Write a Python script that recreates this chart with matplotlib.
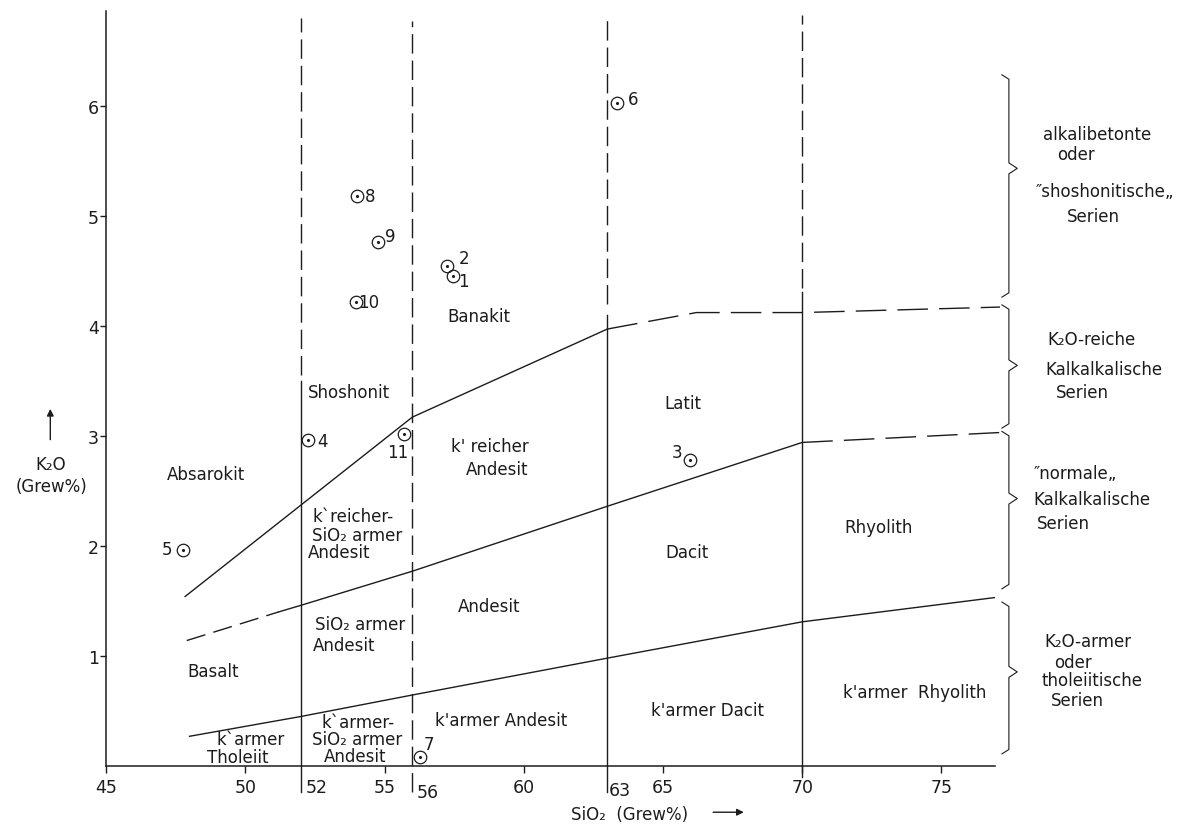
import matplotlib.pyplot as plt

# samples (SiO2, K2O in Grew%)
sample_no = ["1", "2", "3", "4", "5", "6", "7", "8", "9", "10", "11"]
sio2 = [57.46, 57.24, 65.97, 52.26, 47.77, 63.35, 56.27, 54.0, 54.77, 53.98, 55.70]
k2o = [4.45, 4.54, 2.78, 2.96, 1.96, 6.02, 0.08, 5.18, 4.76, 4.22, 3.02]
# label offsets for sample numbers (SiO2, K2O)
label_dx = [0.36, 0.61, -0.47, 0.5, -0.58, 0.57, 0.33, 0.48, 0.43, 0.46, -0.22]
label_dy = [-0.04, 0.08, 0.07, -0.01, 0.01, 0.04, 0.12, 0.0, 0.06, 0.0, -0.17]

# boundary lines
upper_solid_x = [47.84, 56, 63]
upper_solid_y = [1.54, 3.17, 3.97]
upper_dash_x = [63, 66.2, 70, 77.1]
upper_dash_y = [3.97, 4.12, 4.12, 4.17]
mid_dash_x = [47.9, 51.2]
mid_dash_y = [1.14, 1.40]
mid_solid_x = [51.2, 52, 56, 63, 70]
mid_solid_y = [1.40, 1.46, 1.77, 2.36, 2.94]
mid_dash2_x = [70, 77.1]
mid_dash2_y = [2.94, 3.03]
low_x = [48.0, 52, 56, 63, 70, 76.9]
low_y = [0.27, 0.45, 0.645, 0.98, 1.31, 1.53]

# vertical SiO2 dividers: (sio2, dashed from, dashed to, solid from, solid to)
dividers = [
    (52, 3.55, 6.80, -0.24, 3.50),
    (56, -0.24, 6.77, None, None),
    (63, 4.20, 6.80, -0.24, 4.10),
    (70, 4.34, 6.82, -0.10, 4.31),
]

# field names
fields = [
    ("Absarokit", 48.6, 2.65, "center"),
    ("Basalt", 48.85, 0.86, "center"),
    ("k`armer", 50.2, 0.245, "center"),
    ("Tholeiit", 49.74, 0.08, "center"),
    ("Shoshonit", 52.25, 3.4, "left"),
    ("k`reicher-", 52.43, 2.27, "left"),
    ("SiO₂ armer", 52.4, 2.10, "left"),
    ("Andesit", 52.25, 1.94, "left"),
    ("SiO₂ armer", 52.5, 1.29, "left"),
    ("Andesit", 52.43, 1.10, "left"),
    ("k`armer-", 54.05, 0.40, "center"),
    ("SiO₂ armer", 52.4, 0.245, "left"),
    ("Andesit", 53.94, 0.09, "center"),
    ("Banakit", 58.4, 4.09, "center"),
    ("k' reicher", 58.79, 2.91, "center"),
    ("Andesit", 59.04, 2.70, "center"),
    ("Andesit", 58.75, 1.45, "center"),
    ("k'armer Andesit", 59.2, 0.42, "center"),
    ("Latit", 65.7, 3.3, "center"),
    ("Dacit", 65.86, 1.94, "center"),
    ("k'armer Dacit", 66.6, 0.51, "center"),
    ("Rhyolith", 72.75, 2.17, "center"),
    ("k'armer  Rhyolith", 74.05, 0.67, "center"),
]

# series names at the right
series_text = [
    ("alkalibetonte", 80.58, 5.745),
    ("oder", 79.83, 5.56),
    ("″shoshonitische„", 80.87, 5.22),
    ("Serien", 80.44, 5.0),
    ("K₂O-reiche", 80.4, 3.88),
    ("Kalkalkalische", 80.84, 3.61),
    ("Serien", 80.05, 3.4),
    ("″normale„", 79.8, 2.66),
    ("Kalkalkalische", 80.4, 2.43),
    ("Serien", 79.36, 2.21),
    ("K₂O-armer", 80.26, 1.14),
    ("oder", 79.72, 0.945),
    ("tholeiitische", 80.4, 0.78),
    ("Serien", 79.87, 0.60),
]
# braces: (top, middle, bottom)
braces = [(6.24, 5.43, 4.30), (4.15, 3.64, 3.11), (3.00, 2.43, 1.65), (1.45, 0.855, 0.15)]
brace_x = 77.42

ink = "#1c1c1c"
fs = 12

fig = plt.figure(figsize=(11.88, 8.28), dpi=100)
ax = fig.add_axes([106 / 1188, 1 - 767 / 828, 889 / 1188, 755 / 828])
ax.set_xlim(45, 45 + 889 / 27.85)
ax.set_ylim(0, 6.86)

for side in ["top", "right"]:
    ax.spines[side].set_visible(False)
for side in ["left", "bottom"]:
    ax.spines[side].set_linewidth(1.1)
    ax.spines[side].set_color(ink)

ax.set_yticks([1, 2, 3, 4, 5, 6])
ax.set_xticks([45, 50, 55, 60, 65, 70, 75])
ax.tick_params(axis="y", direction="out", length=4, width=1, pad=1, labelsize=12.5, colors=ink)
ax.tick_params(axis="x", direction="out", length=5, width=1, pad=4, labelsize=12.5, colors=ink)

# extra SiO2 labels next to the dividers
for val, dx, yy in [(52, 0.55, -0.19), (56, 0.55, -0.24), (63, 0.45, -0.22)]:
    ax.text(val + dx, yy, str(val), ha="center", va="center", fontsize=12.5, color=ink, clip_on=False)

lw = 1.0
for x, d0, d1, s0, s1 in dividers:
    ax.plot([x, x], [d0, d1], color=ink, lw=lw, dashes=(14, 5), clip_on=False)
    if s0 is not None:
        ax.plot([x, x], [s0, s1], color=ink, lw=lw, clip_on=False)

ax.plot(upper_solid_x, upper_solid_y, color=ink, lw=lw)
ax.plot(upper_dash_x, upper_dash_y, color=ink, lw=lw, dashes=(22, 8), clip_on=False)
ax.plot(mid_dash_x, mid_dash_y, color=ink, lw=lw, dashes=(14, 6))
ax.plot(mid_solid_x, mid_solid_y, color=ink, lw=lw)
ax.plot(mid_dash2_x, mid_dash2_y, color=ink, lw=lw, dashes=(22, 8), clip_on=False)
ax.plot(low_x, low_y, color=ink, lw=lw)

# samples as dotted circles
ax.plot(sio2, k2o, "o", ms=9, mfc="none", mec=ink, mew=0.9, clip_on=False)
ax.plot(sio2, k2o, ".", ms=2.5, color=ink, clip_on=False)
for n, x, y, dx, dy in zip(sample_no, sio2, k2o, label_dx, label_dy):
    ax.text(x + dx, y + dy, n, ha="center", va="center", fontsize=fs, color=ink)

for t, x, y, ha in fields:
    ax.text(x, y, t, ha=ha, va="center", fontsize=fs, color=ink)

for t, x, y in series_text:
    ax.text(x, y, t, ha="center", va="center", fontsize=fs, color=ink, clip_on=False)

for top, mid, bot in braces:
    bx = [brace_x - 0.25, brace_x, brace_x, brace_x + 0.3, brace_x, brace_x, brace_x - 0.25]
    by = [top + 0.04, top, mid + 0.05, mid, mid - 0.05, bot, bot - 0.04]
    ax.plot(bx, by, color=ink, lw=0.8, clip_on=False)

# axis titles with arrows
ax.text(43.0, 2.745, "K₂O", ha="center", va="center", fontsize=fs, color=ink, clip_on=False)
ax.text(43.06, 2.545, "(Grew%)", ha="center", va="center", fontsize=fs, color=ink, clip_on=False)
ax.annotate("", xy=(43.0, 3.27), xytext=(43.0, 2.94), annotation_clip=False,
            arrowprops=dict(arrowstyle="-|>", color=ink, lw=1, mutation_scale=10))
ax.text(63.8, -0.436, "SiO₂  (Grew%)", ha="center", va="center", fontsize=fs, color=ink, clip_on=False)
ax.annotate("", xy=(68.0, -0.42), xytext=(66.7, -0.42), annotation_clip=False,
            arrowprops=dict(arrowstyle="-|>", color=ink, lw=1, mutation_scale=10))

fig.savefig("out.png", dpi=100)
